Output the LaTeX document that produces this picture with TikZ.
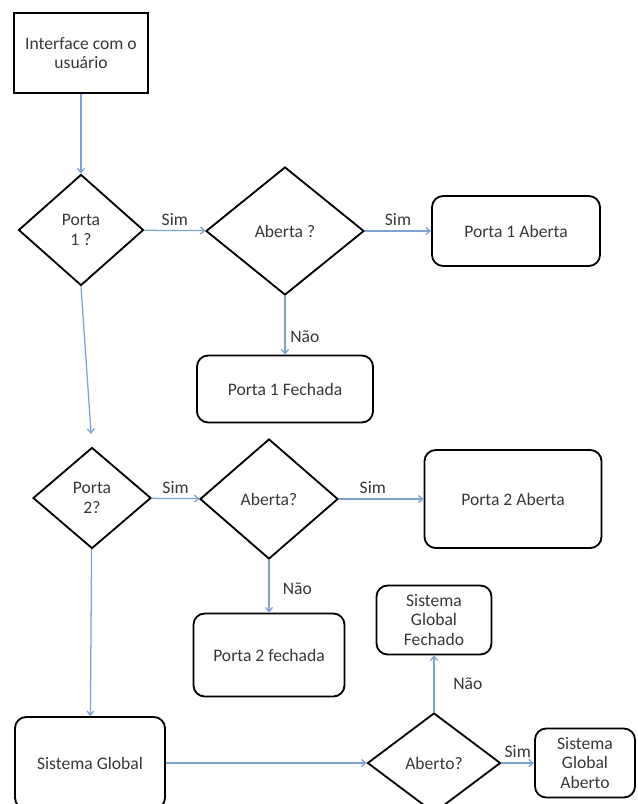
\documentclass[tikz,border=0pt]{standalone}
\usepackage{fontspec}
\setmainfont{Carlito}
\usepackage{tikz}
\usetikzlibrary{
    positioning,
    arrows.meta,
    shapes.geometric
}
\definecolor{flowBlue}{RGB}{125, 162, 212}
\definecolor{flowText}{RGB}{55, 55, 55}

\begin{document}
\begin{tikzpicture}[x=0.025cm, y=-0.025cm, >={Straight Barb[length=3pt, width=5pt]},
        block/.style={draw, line width=1.3pt, align=center, text=flowText,
            font=\fontsize{12.5}{14}\selectfont, inner sep=2pt},
        box/.style={block, rounded corners=8pt},
        decision/.style={block, diamond, inner sep=0pt},
        flow/.style={->, flowBlue, line width=0.9pt},
        lbl/.style={text=flowText, font=\fontsize{12.5}{14}\selectfont}]
        \clip (0,0) rectangle (638,804);

        % entrada
        \node[block, minimum width=3.35cm, minimum height=2cm] (iface) at (81,53) {Interface com o\\usuário};

        % porta 1
        \node[decision, minimum width=3.125cm, minimum height=2.775cm] (p1) at (81,230) {Porta\\1 ?};
        \node[decision, minimum width=3.95cm, minimum height=3.2cm] (ab1) at (285,231) {Aberta ?};
        \node[box, minimum width=4.2cm, minimum height=1.75cm] (p1a) at (516,231) {Porta 1 Aberta};
        \node[box, minimum width=4.4cm, minimum height=1.675cm] (p1f) at (285,389) {Porta 1 Fechada};

        % porta 2
        \node[decision, minimum width=2.95cm, minimum height=2.525cm] (p2) at (92,498) {Porta\\2?};
        \node[decision, minimum width=3.45cm, minimum height=3cm] (ab2) at (269,499) {Aberta?};
        \node[box, minimum width=4.425cm, minimum height=2.45cm] (p2a) at (513,499) {Porta 2 Aberta};
        \node[box, minimum width=3.775cm, minimum height=2.075cm] (p2f) at (269,655) {Porta 2 fechada};

        % sistema global
        \node[box, minimum width=3.75cm, minimum height=2.3cm] (sg) at (90,763) {Sistema Global};
        \node[decision, minimum width=3.325cm, minimum height=2.5cm] (ab3) at (434,763) {Aberto?};
        \node[box, minimum width=2.875cm, minimum height=1.725cm] (sgf) at (434,620) {Sistema\\Global\\Fechado};
        \node[box, minimum width=2.5cm, minimum height=1.725cm] (sga) at (585,763) {Sistema\\Global\\Aberto};

        % ligacoes
        \draw[flow] (iface) -- (p1);
        \draw[flow] (p1) -- node[lbl, above] {Sim} (ab1);
        \draw[flow] (ab1) -- node[lbl, above] {Sim} (p1a);
        \draw[flow] (ab1) -- node[lbl, pos=0.7, right] {Não} (p1f);
        \draw[flow, shorten >=9pt] (p1.south) -- (p2.north);

        \draw[flow] (p2) -- node[lbl, above] {Sim} (ab2);
        \draw[flow] (ab2) -- node[lbl, pos=0.4, above] {Sim} (p2a);
        \draw[flow] (ab2) -- node[lbl, pos=0.55, right=6pt] {Não} (p2f);
        \draw[flow] (p2) -- (sg);

        \draw[flow] (sg) -- (ab3);
        \draw[flow] (ab3) -- node[lbl, pos=0.5, right=10pt] {Não} (sgf);
        \draw[flow] (ab3) -- node[lbl, above] {Sim} (sga);
    \end{tikzpicture}
\end{document}
